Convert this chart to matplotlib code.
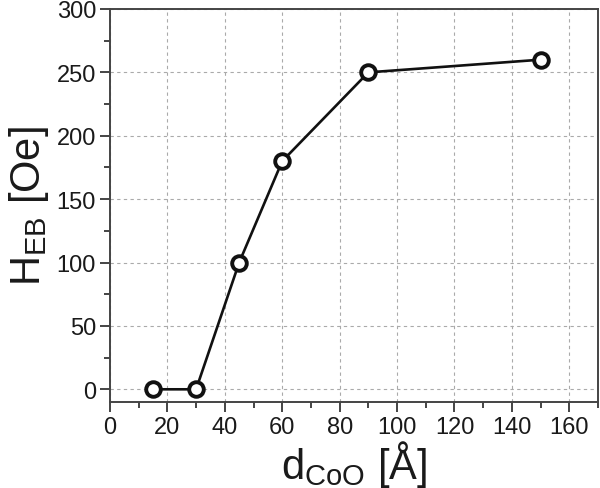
import numpy as np
from matplotlib import pyplot as plt
from matplotlib.ticker import MultipleLocator

# CoO thickness [Angstrom] vs exchange bias field [Oe]
d_coo = [15, 30, 45, 60, 90, 150]
h_eb = [0, 0, 100, 180, 250, 260]

plt.rcParams['font.family'] = ['Liberation Sans', 'DejaVu Sans']
plt.rcParams['mathtext.fontset'] = 'custom'
plt.rcParams['mathtext.rm'] = 'Liberation Sans'
plt.rcParams['mathtext.it'] = 'Liberation Sans'

fig = plt.figure(figsize=(6, 4.89), dpi=100)
ax = fig.add_axes([0.1833, 0.1759, 0.8134, 0.8037])

ax.plot(d_coo, h_eb, '-', color='#111111', lw=1.9, zorder=3)
ax.plot(d_coo, h_eb, 'o', ms=10.5, mfc='white', mec='#111111', mew=2.8, zorder=4)

ax.set_xlim(0, 170)
ax.set_ylim(-10, 300)
ax.xaxis.set_major_locator(MultipleLocator(20))
ax.xaxis.set_minor_locator(MultipleLocator(10))
ax.yaxis.set_major_locator(MultipleLocator(50))
ax.yaxis.set_minor_locator(MultipleLocator(25))

ax.grid(True, which='major', ls=(0, (3, 3)), color='#aaaaaa', lw=0.8)
for s in ax.spines.values():
    s.set_color('#444444')
    s.set_linewidth(1.4)

ax.tick_params(which='both', direction='out', color='#444444', width=1.4,
               labelsize=17, labelcolor='#1a1a1a', top=False, right=False)
ax.tick_params(which='major', length=7, pad=3)
ax.tick_params(which='minor', length=4)

ax.set_xlabel(r'd$_{\mathrm{CoO}}$ [Å]', fontsize=30, color='#1a1a1a', labelpad=0)
ax.set_ylabel(r'H$_{\mathrm{EB}}$ [Oe]', fontsize=30, color='#1a1a1a', labelpad=4)

fig.savefig('out.png', dpi=100)
